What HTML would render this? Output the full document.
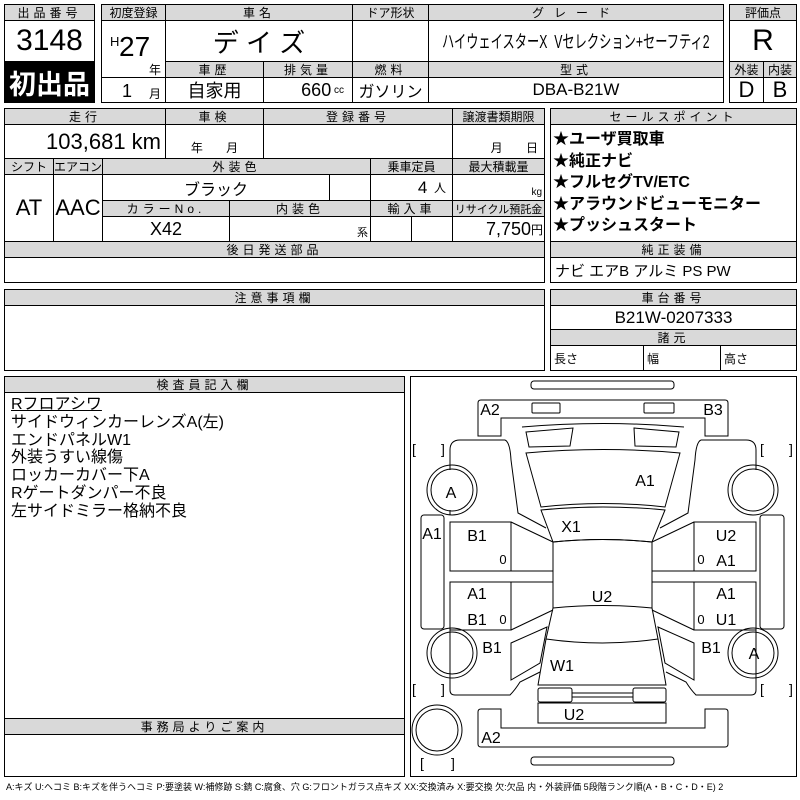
<!DOCTYPE html>
<html><head><meta charset="utf-8"><style>
body{margin:0;width:800px;height:800px;background:#fff;position:relative;overflow:hidden;font-family:"Liberation Sans Narrow","Liberation Sans","Noto Sans CJK JP",sans-serif;color:#000}
.c,.h{position:absolute;box-sizing:border-box;border:1px solid #000;display:flex;align-items:center;justify-content:center;white-space:nowrap;background:#fff;overflow:hidden}
.h{background:#d9d9d9;font-size:12px;letter-spacing:4px}
.t{position:absolute;white-space:nowrap}
svg{position:absolute;left:0;top:0}
</style></head><body>
<!-- top -->
<div class="h" style="left:4px;top:4px;width:91px;height:17px">出品番号</div>
<div class="c" style="left:4px;top:20px;width:91px;height:42px;font-size:30px">3148</div>
<div class="c" style="left:4px;top:61px;width:91px;height:42px;background:#000;color:#fff;font-size:27px;font-weight:bold">初出品</div>

<div class="h" style="left:101px;top:4px;width:65px;height:17px;letter-spacing:0">初度登録</div>
<div class="h" style="left:165px;top:4px;width:188px;height:17px">車名</div>
<div class="h" style="left:352px;top:4px;width:77px;height:17px;letter-spacing:0">ドア形状</div>
<div class="h" style="left:428px;top:4px;width:296px;height:17px;letter-spacing:10px">グレード</div>
<div class="c" style="left:101px;top:20px;width:65px;height:58px"><span class="t" style="left:8px;top:13px;font-size:13px">H</span><span class="t" style="left:17px;top:10px;font-size:28px">27</span><span class="t" style="left:47px;top:40px;font-size:12px">年</span></div>
<div class="c" style="left:101px;top:77px;width:65px;height:26px;font-size:16px"><span class="t" style="left:20px;top:3px;font-size:18px">1</span><span class="t" style="left:47px;top:7px;font-size:12px">月</span></div>
<div class="c" style="left:165px;top:20px;width:188px;height:42px;font-size:26px">デ イ ズ</div>
<div class="c" style="left:352px;top:20px;width:77px;height:42px"></div>
<div class="c" style="left:428px;top:20px;width:296px;height:42px;font-size:18px"><span style="display:inline-block;transform:scaleX(0.68);transform-origin:center">ハイウェイスターX&nbsp; Vセレクション+セーフティ2</span></div>
<div class="h" style="left:165px;top:61px;width:99px;height:17px">車歴</div>
<div class="h" style="left:263px;top:61px;width:90px;height:17px">排気量</div>
<div class="h" style="left:352px;top:61px;width:77px;height:17px">燃料</div>
<div class="h" style="left:428px;top:61px;width:296px;height:17px">型式</div>
<div class="c" style="left:165px;top:77px;width:99px;height:26px;font-size:18px">自家用</div>
<div class="c" style="left:263px;top:77px;width:90px;height:26px;font-size:18px;justify-content:flex-end;padding-right:8px">660 <span style="font-size:10px">&nbsp;cc</span></div>
<div class="c" style="left:352px;top:77px;width:77px;height:26px;font-size:16px">ガソリン</div>
<div class="c" style="left:428px;top:77px;width:296px;height:26px;font-size:17px">DBA-B21W</div>
<div class="h" style="left:729px;top:4px;width:68px;height:17px;letter-spacing:0">評価点</div>
<div class="c" style="left:729px;top:20px;width:68px;height:42px;font-size:30px">R</div>
<div class="h" style="left:729px;top:61px;width:35px;height:17px;letter-spacing:0">外装</div>
<div class="h" style="left:763px;top:61px;width:34px;height:17px;letter-spacing:0">内装</div>
<div class="c" style="left:729px;top:77px;width:35px;height:26px;font-size:22px">D</div>
<div class="c" style="left:763px;top:77px;width:34px;height:26px;font-size:22px">B</div>

<!-- second -->
<div class="h" style="left:4px;top:108px;width:162px;height:17px">走行</div>
<div class="h" style="left:165px;top:108px;width:99px;height:17px">車検</div>
<div class="h" style="left:263px;top:108px;width:190px;height:17px">登録番号</div>
<div class="h" style="left:452px;top:108px;width:93px;height:17px;letter-spacing:0">譲渡書類期限</div>
<div class="c" style="left:4px;top:124px;width:162px;height:35px;font-size:22px;justify-content:flex-end;padding-right:4px">103,681 km</div>
<div class="c" style="left:165px;top:124px;width:99px;height:35px;font-size:12px;align-items:flex-end;padding-bottom:2px">年&nbsp;&nbsp;&nbsp;&nbsp;&nbsp;&nbsp;&nbsp;月</div>
<div class="c" style="left:263px;top:124px;width:190px;height:35px"></div>
<div class="c" style="left:452px;top:124px;width:93px;height:35px;font-size:12px;align-items:flex-end;justify-content:flex-end;padding:0 6px 2px 0">月&nbsp;&nbsp;&nbsp;&nbsp;&nbsp;&nbsp;&nbsp;日</div>
<div class="h" style="left:4px;top:158px;width:50px;height:17px;letter-spacing:0">シフト</div>
<div class="h" style="left:53px;top:158px;width:50px;height:17px;letter-spacing:0">エアコン</div>
<div class="h" style="left:102px;top:158px;width:269px;height:17px">外装色</div>
<div class="h" style="left:370px;top:158px;width:83px;height:17px;letter-spacing:0">乗車定員</div>
<div class="h" style="left:452px;top:158px;width:93px;height:17px;letter-spacing:0">最大積載量</div>
<div class="c" style="left:4px;top:174px;width:50px;height:68px;font-size:22px">AT</div>
<div class="c" style="left:53px;top:174px;width:50px;height:68px;font-size:22px">AAC</div>
<div class="c" style="left:102px;top:174px;width:228px;height:27px;font-size:16px">ブラック</div>
<div class="c" style="left:329px;top:174px;width:42px;height:27px"></div>
<div class="c" style="left:370px;top:174px;width:83px;height:27px;font-size:17px;justify-content:flex-end;padding-right:6px">4 <span style="font-size:12px">&nbsp;&nbsp;人</span></div>
<div class="c" style="left:452px;top:174px;width:93px;height:27px;font-size:10px;justify-content:flex-end;align-items:flex-end;padding:0 2px 2px 0">kg</div>
<div class="h" style="left:102px;top:200px;width:128px;height:17px">カラーNo.</div>
<div class="h" style="left:229px;top:200px;width:142px;height:17px">内装色</div>
<div class="h" style="left:370px;top:200px;width:83px;height:17px">輸入車</div>
<div class="h" style="left:452px;top:200px;width:93px;height:17px;letter-spacing:0;font-size:11px">リサイクル預託金</div>
<div class="c" style="left:102px;top:216px;width:128px;height:26px;font-size:18px">X42</div>
<div class="c" style="left:229px;top:216px;width:142px;height:26px;font-size:11px;justify-content:flex-end;align-items:flex-end;padding:0 2px 1px 0">系</div>
<div class="c" style="left:370px;top:216px;width:42px;height:26px"></div>
<div class="c" style="left:411px;top:216px;width:42px;height:26px"></div>
<div class="c" style="left:452px;top:216px;width:93px;height:26px;font-size:18px;justify-content:flex-end;padding-right:1px">7,750<span style="font-size:12px">円</span></div>
<div class="h" style="left:4px;top:241px;width:541px;height:17px">後日発送部品</div>
<div class="c" style="left:4px;top:257px;width:541px;height:26px"></div>

<div class="h" style="left:550px;top:108px;width:247px;height:17px">セールスポイント</div>
<div class="c" style="left:550px;top:124px;width:247px;height:118px;display:block;font-size:16px;font-weight:bold;line-height:21.5px;padding:4px 0 0 2px">★ユーザ買取車<br>★純正ナビ<br>★フルセグTV/ETC<br>★アラウンドビューモニター<br>★プッシュスタート</div>
<div class="h" style="left:550px;top:241px;width:247px;height:17px">純正装備</div>
<div class="c" style="left:550px;top:257px;width:247px;height:26px;font-size:15px;justify-content:flex-start;padding-left:4px">ナビ エアB アルミ PS PW</div>

<!-- third -->
<div class="h" style="left:4px;top:289px;width:541px;height:17px">注意事項欄</div>
<div class="c" style="left:4px;top:305px;width:541px;height:66px"></div>
<div class="h" style="left:550px;top:289px;width:247px;height:17px">車台番号</div>
<div class="c" style="left:550px;top:305px;width:247px;height:25px;font-size:17px">B21W-0207333</div>
<div class="h" style="left:550px;top:329px;width:247px;height:17px">諸元</div>
<div class="c" style="left:550px;top:345px;width:94px;height:26px;font-size:12px;justify-content:flex-start;padding-left:3px">長さ</div>
<div class="c" style="left:643px;top:345px;width:78px;height:26px;font-size:12px;justify-content:flex-start;padding-left:3px">幅</div>
<div class="c" style="left:720px;top:345px;width:77px;height:26px;font-size:12px;justify-content:flex-start;padding-left:3px">高さ</div>

<!-- fourth -->
<div class="h" style="left:4px;top:376px;width:401px;height:17px">検査員記入欄</div>
<div class="c" style="left:4px;top:392px;width:401px;height:327px;display:block;font-size:16px;line-height:17.8px;padding:3px 0 0 6px"><span style="text-decoration:underline">Rフロアシワ</span><br>サイドウィンカーレンズA(左)<br>エンドパネルW1<br>外装うすい線傷<br>ロッカーカバー下A<br>Rゲートダンパー不良<br>左サイドミラー格納不良</div>
<div class="h" style="left:4px;top:718px;width:401px;height:17px">事務局よりご案内</div>
<div class="c" style="left:4px;top:734px;width:401px;height:43px"></div>
<div class="c" style="left:410px;top:376px;width:387px;height:401px"></div>
<div class="t" style="left:6px;top:780px;font-size:9px;letter-spacing:0">A:キズ U:ヘコミ B:キズを伴うヘコミ P:要塗装 W:補修跡 S:錆 C:腐食、穴 G:フロントガラス点キズ XX:交換済み X:要交換 欠:欠品 内・外装評価 5段階ランク順(A・B・C・D・E) 2</div>

<svg width="800" height="800" viewBox="0 0 800 800" fill="none" stroke="#000" stroke-width="1">
<rect x="531" y="381" width="143" height="8" rx="3"/>
<path d="M478,403 Q478,400 481,400 L725,400 Q728,400 728,403 L728,436 L705,436 L705,418 L501,418 L501,436 L478,436 Z"/>
<rect x="532" y="403" width="28" height="10" rx="1"/>
<rect x="644" y="403" width="30" height="10" rx="1"/>
<path d="M522,427 Q603,420 684,427"/>
<path d="M526,432 L573,428 L570,446 L529,447 Z"/>
<path d="M634,428 L679,432 L676,447 L635,446 Z"/>
<path d="M526,453 Q603,446 680,453 L665,507 Q603,500 541,507 Z"/>
<path d="M541,510 Q603,504 665,510 L652,542 Q603,537 553,542 Z"/>
<path d="M553,542 Q603,537 652,542 L652,608 Q603,603 553,608 Z"/>
<path d="M553,608 L546,639 Q603,647 658,639 L652,608"/>
<path d="M546,639 L538,685 L666,685 L658,639"/>
<rect x="538" y="688" width="34" height="14" rx="2"/>
<rect x="633" y="688" width="33" height="14" rx="2"/>
<path d="M572,693 L633,693 M572,697 L633,697"/>
<rect x="538" y="703" width="128" height="20"/>
<path d="M478,712 Q478,709 481,709 L501,709 L501,728 L705,728 L705,709 L725,709 Q728,709 728,712 L728,744 Q728,747 725,747 L481,747 Q478,747 478,744 Z"/>
<rect x="531" y="757" width="143" height="8" rx="3"/>
<path d="M505,440 L460,440 Q450,440 450,450 L450,470"/>
<path d="M505,440 Q510,442 511,460 L518,513 L546,528"/>
<path d="M450,510 L450,515"/>
<path d="M450,630 L450,690 Q450,695 455,695 L510,695 Q515,690 520,682 L540,672"/>
<path d="M701,440 L746,440 Q756,440 756,450 L756,470"/>
<path d="M701,440 Q696,442 695,460 L688,513 L660,528"/>
<path d="M756,630 L756,690 Q756,695 751,695 L696,695 Q691,690 686,682 L666,672"/>
<rect x="450" y="522" width="61" height="49"/>
<rect x="450" y="582" width="61" height="48"/>
<path d="M511,522 L553,542 M511,571 L553,571 M511,582 L553,582 M511,630 L553,610"/>
<rect x="694" y="522" width="62" height="49"/>
<rect x="694" y="582" width="62" height="48"/>
<path d="M694,522 L652,542 M694,571 L652,571 M694,582 L652,582 M694,630 L652,610"/>
<path d="M511,643 L547,627 L540,663 L511,680 Z"/>
<path d="M694,643 L658,627 L665,663 L694,680 Z"/>
<rect x="421" y="515" width="23" height="114" rx="3"/>
<rect x="760" y="515" width="24" height="114" rx="3"/>
<circle cx="452" cy="490" r="25"/><circle cx="452" cy="490" r="21"/>
<circle cx="753" cy="490" r="25"/><circle cx="753" cy="490" r="21"/>
<circle cx="452" cy="653" r="25"/><circle cx="452" cy="653" r="21"/>
<circle cx="753" cy="653" r="25"/><circle cx="753" cy="653" r="21"/>
<circle cx="437" cy="730" r="25"/><circle cx="437" cy="730" r="21"/>
<g fill="#000" stroke="none" font-family="Liberation Sans Narrow, Liberation Sans, sans-serif" font-size="16" text-anchor="middle">
<text x="490" y="415">A2</text><text x="713" y="415">B3</text>
<text x="645" y="486">A1</text><text x="451" y="498">A</text>
<text x="571" y="532">X1</text><text x="432" y="539">A1</text>
<text x="477" y="541">B1</text><text x="503" y="564" font-size="13">0</text>
<text x="726" y="541">U2</text><text x="701" y="564" font-size="13">0</text>
<text x="726" y="566">A1</text><text x="602" y="602">U2</text>
<text x="477" y="599">A1</text><text x="726" y="599">A1</text>
<text x="477" y="625">B1</text><text x="503" y="624" font-size="13">0</text>
<text x="701" y="624" font-size="13">0</text><text x="726" y="625">U1</text>
<text x="492" y="653">B1</text><text x="711" y="653">B1</text>
<text x="754" y="659">A</text><text x="562" y="671">W1</text>
<text x="574" y="720">U2</text><text x="491" y="743">A2</text>
<g font-size="14"><text x="414" y="454">[</text><text x="443" y="454">]</text><text x="762" y="454">[</text><text x="791" y="454">]</text>
<text x="414" y="694">[</text><text x="443" y="694">]</text><text x="762" y="694">[</text><text x="791" y="694">]</text>
<text x="422" y="768">[</text><text x="453" y="768">]</text></g>
</g>
</svg>
</body></html>
